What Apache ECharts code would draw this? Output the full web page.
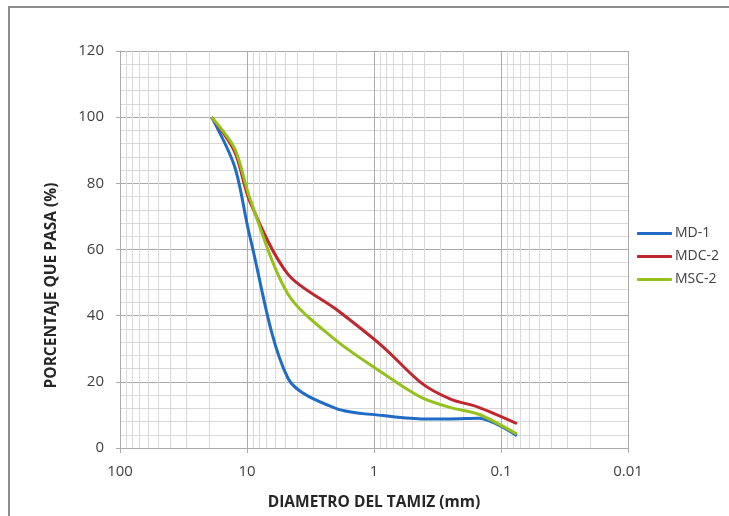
<!DOCTYPE html>
<html>
<head>
<meta charset="utf-8">
<script src="https://cdn.jsdelivr.net/npm/echarts@6/dist/echarts.min.js"></script>
<style>
html,body{margin:0;padding:0;background:#fff;}
#chart{width:729px;height:516px;}
</style>
</head>
<body>
<div id="chart"></div>
<script>
// Sieve sizes (mm)
var sizes = [19, 12.5, 9.5, 4.75, 2.0, 0.85, 0.425, 0.25, 0.15, 0.075];
// Percent passing
var md1  = [100, 85, 64, 21, 12, 9.8, 8.8, 8.8, 9.0, 3.7];
var mdc2 = [100, 89.5, 74.5, 52.5, 42, 30.6, 19.7, 14.8, 12.3, 7.4];
var msc2 = [100, 90.5, 75.5, 46.5, 32.6, 22.6, 15.3, 12.2, 10.2, 4.2];
var seriesNames = ['MD-1', 'MDC-2', 'MSC-2'];
var seriesColors = ['#1f6bc6', '#c0262d', '#94c11c'];
// minor gridline positions (log decades 2..9)
var decades = [0.01, 0.1, 1, 10];
var minorMultipliers = [2, 3, 4, 5, 6, 7, 8, 9];

function pairs(xs, ys) { return xs.map(function (x, i) { return [x, ys[i]]; }); }

var minorLines = [];
decades.forEach(function (d) {
  minorMultipliers.forEach(function (m) { minorLines.push({ xAxis: +(d * m).toPrecision(3) }); });
});

var font = 'Open Sans';
var chart = echarts.init(document.getElementById('chart'));
var values = [md1, mdc2, msc2];
var series = values.map(function (v, i) {
  var s = {
    name: seriesNames[i],
    type: 'line',
    data: pairs(sizes, v),
    smooth: 0.3,
    showSymbol: false,
    symbol: 'none',
    z: 3,
    lineStyle: { color: seriesColors[i], width: 3 },
    itemStyle: { color: seriesColors[i] }
  };
  if (i === 0) {
    s.markLine = {
      silent: true,
      z: 1,
      animation: false,
      symbol: ['none', 'none'],
      label: { show: false },
      lineStyle: { color: '#d9d9d9', width: 1, type: 'solid' },
      emphasis: { disabled: true },
      data: minorLines
    };
  }
  return s;
});

chart.setOption({
  animation: false,
  backgroundColor: '#ffffff',
  graphic: [{
    type: 'rect',
    shape: { x: 9, y: 7, width: 900, height: 700 },
    style: { fill: 'none', stroke: '#8c8c8c', lineWidth: 2 },
    silent: true
  }],
  grid: { left: 120, right: 101, top: 51, bottom: 68 },
  legend: {
    orient: 'vertical',
    left: 632,
    top: 219,
    icon: 'roundRect',
    itemWidth: 35,
    itemHeight: 3,
    itemGap: 4,
    data: seriesNames,
    textStyle: { fontFamily: font, fontSize: 14, color: '#404040', lineHeight: 19, padding: [0, 0, 0, -2] }
  },
  xAxis: {
    type: 'log',
    logBase: 10,
    min: 0.01,
    max: 100,
    inverse: true,
    name: 'DIAMETRO DEL TAMIZ (mm)',
    nameLocation: 'middle',
    nameGap: 47,
    nameTextStyle: { fontFamily: font, fontSize: 15.5, fontWeight: 'bold', color: '#262626' },
    axisLine: { show: true, lineStyle: { color: '#ababab', width: 1 } },
    axisTick: { show: true, length: 5, lineStyle: { color: '#ababab' } },
    axisLabel: { fontFamily: font, fontSize: 15, color: '#404040', margin: 16 },
    splitLine: { show: true, lineStyle: { color: '#ababab', width: 1 } }
  },
  yAxis: {
    type: 'value',
    min: 0,
    max: 120,
    interval: 20,
    name: 'PORCENTAJE QUE PASA (%)',
    nameLocation: 'middle',
    nameRotate: 90,
    nameGap: 60,
    nameTextStyle: { fontFamily: font, fontSize: 15.5, fontWeight: 'bold', color: '#262626', padding: [0, 72, 0, 0] },
    axisLine: { show: true, lineStyle: { color: '#ababab', width: 1 } },
    axisTick: { show: true, length: 4, lineStyle: { color: '#ababab' } },
    axisLabel: { fontFamily: font, fontSize: 15, color: '#404040', margin: 16 },
    splitLine: { show: true, lineStyle: { color: '#ababab', width: 1 } },
    minorTick: { show: false, splitNumber: 5 },
    minorSplitLine: { show: true, lineStyle: { color: '#d9d9d9', width: 1 } }
  },
  series: series
});
</script>
</body>
</html>
